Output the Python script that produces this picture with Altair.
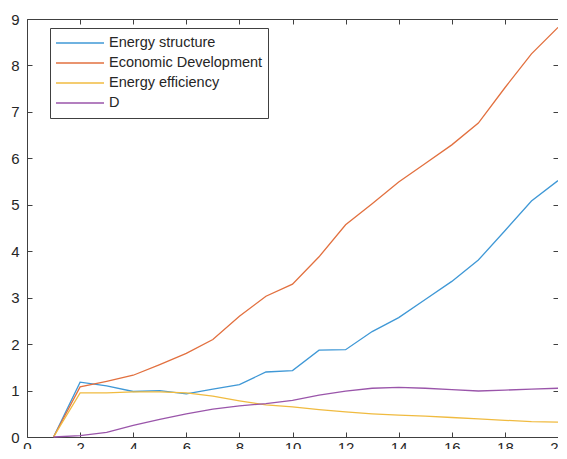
import altair as alt
import pandas as pd

x_vals = list(range(1, 21))
series_names = ["Energy structure", "Economic Development", "Energy efficiency", "D"]
energy_structure = [0, 1.18, 1.10, 0.98, 1.00, 0.93, 1.03, 1.13, 1.40, 1.43,
                    1.87, 1.88, 2.27, 2.57, 2.96, 3.35, 3.81, 4.44, 5.08, 5.52]
economic_dev = [0, 1.08, 1.20, 1.33, 1.56, 1.80, 2.10, 2.60, 3.03, 3.29,
                3.88, 4.57, 5.02, 5.49, 5.89, 6.29, 6.76, 7.52, 8.25, 8.82]
energy_eff = [0, 0.95, 0.95, 0.97, 0.97, 0.95, 0.88, 0.78, 0.69, 0.65,
              0.59, 0.54, 0.50, 0.47, 0.45, 0.42, 0.39, 0.36, 0.33, 0.32]
d_vals = [0, 0.03, 0.10, 0.25, 0.38, 0.50, 0.60, 0.67, 0.72, 0.79,
          0.90, 0.99, 1.05, 1.07, 1.05, 1.02, 0.99, 1.01, 1.03, 1.05]
colors = ["#3f98d6", "#e2703f", "#f0bb40", "#9a55aa"]
x_ticks = list(range(0, 21, 2))
y_ticks = list(range(0, 10))

rows = []
for name, vals in zip(series_names, [energy_structure, economic_dev, energy_eff, d_vals]):
    for xv, yv in zip(x_vals, vals):
        rows.append({"x": xv, "y": yv, "series": name})
df = pd.DataFrame(rows)

FONT = "Liberation Sans"
AX = "#262626"
FR = "#404040"

xscale = alt.Scale(domain=[0, 20], nice=False, zero=False)
yscale = alt.Scale(domain=[0, 9], nice=False)

lines = alt.Chart(df).mark_line(strokeWidth=1.3).encode(
    x=alt.X("x:Q", scale=xscale,
            axis=alt.Axis(values=x_ticks, title=None, grid=False, domain=False,
                          offset=-5, tickSize=5, tickColor=FR, labelPadding=3,
                          labelFontSize=15, labelColor=AX, labelFont=FONT,
                          labelFlush=False, orient="bottom")),
    y=alt.Y("y:Q", scale=yscale,
            axis=alt.Axis(values=y_ticks, title=None, grid=False, domain=False,
                          offset=-5, tickSize=5, tickColor=FR, labelPadding=8,
                          labelFontSize=15, labelColor=AX, labelFont=FONT,
                          labelFlush=False, orient="left")),
    color=alt.Color("series:N",
                    scale=alt.Scale(domain=series_names, range=colors),
                    sort=series_names,
                    legend=alt.Legend(title=None, orient="none", legendX=23, legendY=9,
                                      symbolType="stroke", symbolSize=2304,
                                      symbolStrokeWidth=1.3, clipHeight=20,
                                      rowPadding=0, labelOffset=4,
                                      labelFontSize=14.5, labelFont=FONT, labelColor=AX,
                                      padding=5, strokeColor=FR, fillColor="white",
                                      labelLimit=400)),
)

frame = alt.Chart(df).mark_point(opacity=0).encode(
    x=alt.X("x:Q", scale=xscale,
            axis=alt.Axis(values=x_ticks, title=None, grid=False, domain=False,
                          offset=-5, tickSize=5, tickColor=FR, labels=False,
                          orient="top")),
    y=alt.Y("y:Q", scale=yscale,
            axis=alt.Axis(values=y_ticks, title=None, grid=False, domain=False,
                          offset=-5, tickSize=5, tickColor=FR, labels=False,
                          orient="right")),
)

chart = alt.layer(lines, frame).resolve_axis(x="independent", y="independent").properties(
    width=531, height=418,
    autosize=alt.AutoSizeParams(type="none"),
    padding={"left": 19, "top": 11, "right": 0, "bottom": 12},
    background="white",
).configure_view(stroke=FR, strokeWidth=1)

chart.save("out.html", embed_options={"renderer": "svg", "actions": False})
